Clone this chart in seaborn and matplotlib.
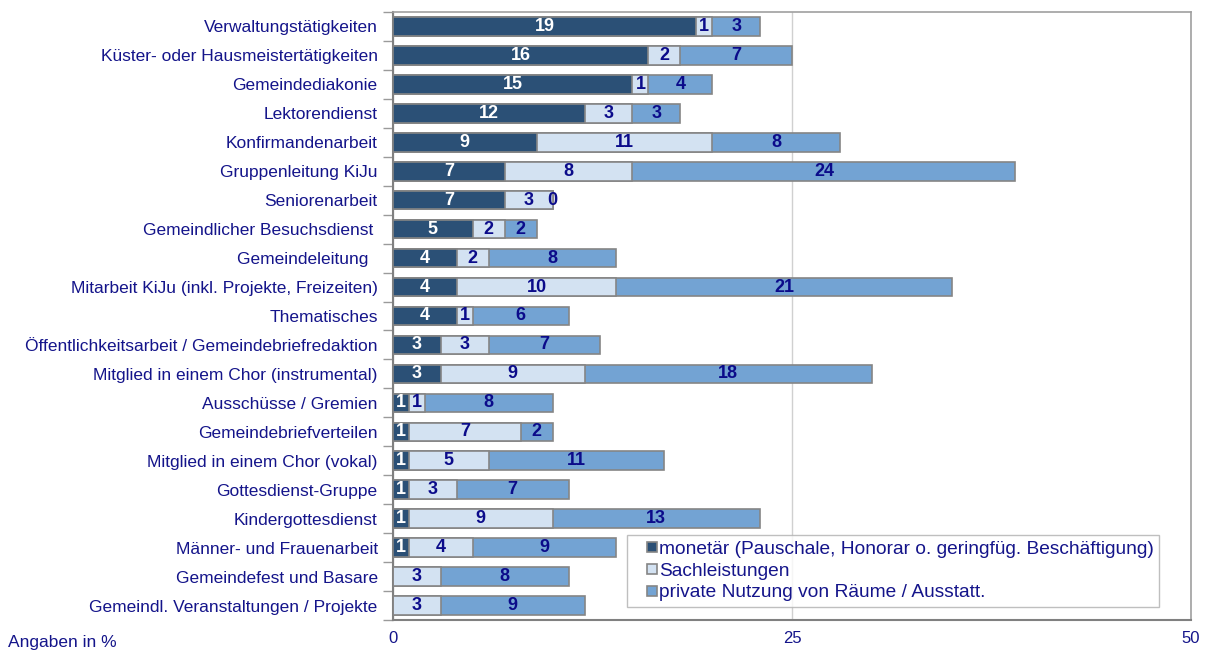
import numpy as np
import pandas as pd
import matplotlib
matplotlib.use("Agg")
import matplotlib.pyplot as plt
import seaborn as sns
from matplotlib.lines import Line2D

categories = [
    "Verwaltungstätigkeiten",
    "Küster- oder Hausmeistertätigkeiten",
    "Gemeindediakonie",
    "Lektorendienst",
    "Konfirmandenarbeit",
    "Gruppenleitung KiJu",
    "Seniorenarbeit",
    "Gemeindlicher Besuchsdienst ",
    "Gemeindeleitung  ",
    "Mitarbeit KiJu (inkl. Projekte, Freizeiten)",
    "Thematisches",
    "Öffentlichkeitsarbeit / Gemeindebriefredaktion",
    "Mitglied in einem Chor (instrumental)",
    "Ausschüsse / Gremien",
    "Gemeindebriefverteilen",
    "Mitglied in einem Chor (vokal)",
    "Gottesdienst-Gruppe",
    "Kindergottesdienst",
    "Männer- und Frauenarbeit",
    "Gemeindefest und Basare",
    "Gemeindl. Veranstaltungen / Projekte",
]
monetaer = [19, 16, 15, 12, 9, 7, 7, 5, 4, 4, 4, 3, 3, 1, 1, 1, 1, 1, 1, np.nan, np.nan]
sach = [1, 2, 1, 3, 11, 8, 3, 2, 2, 10, 1, 3, 9, 1, 7, 5, 3, 9, 4, 3, 3]
privat = [3, 7, 4, 3, 8, 24, 0, 2, 8, 21, 6, 7, 18, 8, 2, 11, 7, 13, 9, 8, 9]
series_names = [
    "monetär (Pauschale, Honorar o. geringfüg. Beschäftigung)",
    "Sachleistungen",
    "private Nutzung von Räume / Ausstatt.",
]
x_ticks = [0, 25, 50]

colors = ["#2B5076", "#D3E2F2", "#73A3D3"]
label_colors = ["white", "#0B0B8A", "#0B0B8A"]
text_color = "#14148A"
edge = "#858585"

sns.set_theme(style="white")
plt.rcParams["font.family"] = ["Liberation Sans", "DejaVu Sans"]

m = np.nan_to_num(np.array(monetaer, dtype=float))
s = np.array(sach, dtype=float)
p = np.array(privat, dtype=float)
cum1 = m
cum2 = m + s
cum3 = m + s + p

df = pd.DataFrame({"cat": categories, "c1": cum1, "c2": cum2, "c3": cum3})

fig = plt.figure(figsize=(12.21, 6.53), dpi=100)
ax = fig.add_axes([393 / 1221, 1 - 620 / 653, (1191 - 393) / 1221, (620 - 12) / 653])

bw = 0.64
for col, c in zip(["c3", "c2", "c1"], [colors[2], colors[1], colors[0]]):
    sns.barplot(data=df, y="cat", x=col, orient="h", color=c, width=bw,
                edgecolor=edge, linewidth=1.2, saturation=1, ax=ax, zorder=3)

# value labels
vals = [monetaer, sach, privat]
lefts = [np.zeros_like(m), cum1, cum2]
for k in range(3):
    for i, v in enumerate(vals[k]):
        if v is None or (isinstance(v, float) and np.isnan(v)):
            continue
        xc = lefts[k][i] + v / 2
        ax.text(xc, i, f"{int(v)}", ha="center", va="center", fontsize=13,
                fontweight="bold", color=label_colors[k], zorder=5)

ax.set_xlim(0, 50)
ax.set_ylim(len(categories) - 0.5, -0.5)
ax.set_xticks(x_ticks)
ax.set_xticklabels([str(t) for t in x_ticks], color=text_color, fontsize=12)
ax.set_xlabel("")
ax.set_ylabel("")
ax.tick_params(axis="y", length=0, pad=11, labelsize=12.5, labelcolor=text_color)
ax.tick_params(axis="x", length=0, pad=8)
ax.set_yticks(range(len(categories)))
ax.set_yticklabels(categories)
# minor ticks at category boundaries
ax.set_yticks(np.arange(-0.5, len(categories), 1.0), minor=True)
ax.tick_params(axis="y", which="minor", length=7, width=1, color="#9A9A9A", direction="out", left=True)
ax.set_xticks([0], minor=True)
ax.tick_params(axis="x", which="minor", length=5, width=1, color="#9A9A9A", direction="out", bottom=True)

ax.xaxis.grid(True, color="#D0D0D0", linewidth=1, zorder=0)
ax.set_axisbelow(True)
for side in ["left", "bottom"]:
    ax.spines[side].set_color("#808080")
    ax.spines[side].set_linewidth(1.5)
for side in ["top", "right"]:
    ax.spines[side].set_color("#A0A0A0")
    ax.spines[side].set_linewidth(1.2)

handles = [Line2D([], [], linestyle="none", marker="s", markersize=7.5,
                  markerfacecolor=c, markeredgecolor=edge, markeredgewidth=1.2)
           for c in colors]
leg = ax.legend(handles, series_names, loc="lower left",
                bbox_to_anchor=((627 - 393) / (1191 - 393), (620 - 607) / (620 - 12)),
                frameon=True, fancybox=False, fontsize=13.8, handlelength=2.0,
                handletextpad=-0.64, borderpad=0.3,
                labelspacing=0.22, borderaxespad=0)
leg.get_frame().set_edgecolor("#B0B0B0")
leg.get_frame().set_linewidth(1)
for t in leg.get_texts():
    t.set_color(text_color)

fig.text(8 / 1221, 1 - 642 / 653, "Angaben in %", color=text_color, fontsize=12.5,
         ha="left", va="center")

fig.savefig("out.png", dpi=100)
